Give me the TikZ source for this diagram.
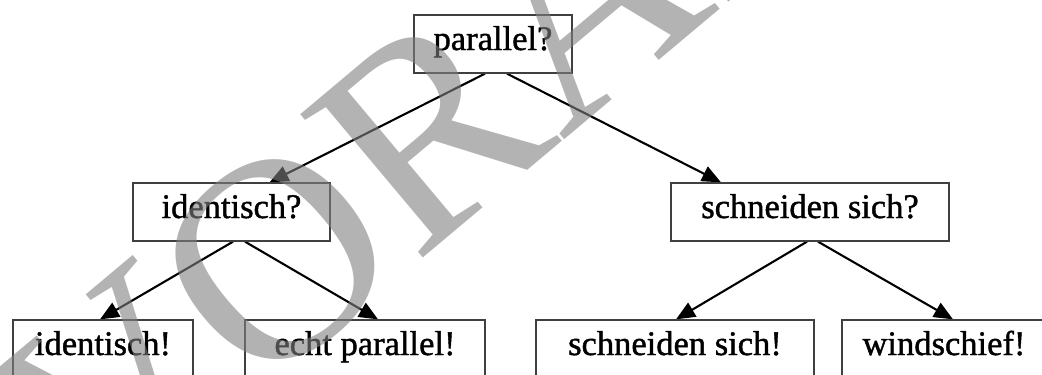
\documentclass[tikz,border=0pt]{standalone}
\usepackage{fontspec}
\setmainfont{Liberation Serif}
\newfontfamily\boxfont{Liberation Serif}[FakeBold=1.2]
\usetikzlibrary{arrows.meta}
\pgfdeclarelayer{edges}
\pgfsetlayers{edges,main}
\tikzset{
  box/.style={draw=black!75, line width=1.3bp, fill=white, inner sep=0pt,
    minimum height=58bp, text height=20bp, text depth=8bp,
    font=\boxfont\fontsize{34.5bp}{40bp}\selectfont},
  link/.style={line width=2.1bp, -{Triangle[length=19bp,width=16bp]}},
  stamp/.style={inner sep=0pt, text=gray, opacity=0.6,
    font=\fontsize{288bp}{288bp}\selectfont}
}
\begin{document}
\begin{tikzpicture}[x=1bp,y=-1bp]
\useasboundingbox (0,0) rectangle (1042,374);
\clip (0,0) rectangle (1042,374);

% decision tree
\node[box, minimum width=158bp] (P)  at (493,44)   {parallel?};
\node[box, minimum width=197bp] (I)  at (231.5,212) {identisch?};
\node[box, minimum width=278bp] (S)  at (810,212)  {schneiden sich?};
\node[box, minimum width=180bp] (I2) at (103,349)  {identisch!};
\node[box, minimum width=240bp] (E)  at (365,349)  {echt parallel!};
\node[box, minimum width=278bp] (S2) at (675,349)  {schneiden sich!};
\node[box, minimum width=204bp] (W)  at (944,349)  {windschief!};

\begin{pgfonlayer}{edges}
\draw[link] ([shift={(-8,0)}]P.south)  -- ([shift={(38,0)}]I.north);
\draw[link] ([shift={(14,0)}]P.south)  -- ([shift={(-89,0)}]S.north);
\draw[link] ([shift={(1.5,0)}]I.south) -- ([shift={(-3,0)}]I2.north);
\draw[link] ([shift={(13.5,0)}]I.south) -- ([shift={(13,0)}]E.north);
\draw[link] ([shift={(-3,0)}]S.south)  -- ([shift={(1,0)}]S2.north);
\draw[link] ([shift={(8,0)}]S.south)   -- ([shift={(9,0)}]W.north);
\end{pgfonlayer}

% stamp across the sheet
\node[stamp, rotate=40, anchor=base west] (mark) at (97,532) {VORANSICHT};
\end{tikzpicture}
\end{document}
